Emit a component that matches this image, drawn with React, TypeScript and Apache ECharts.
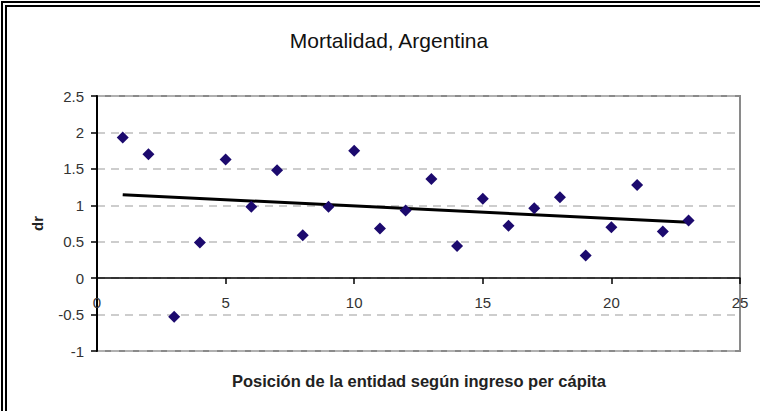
import React, { useEffect, useRef } from "react";
import * as echarts from "echarts";

const positions = [1, 2, 3, 4, 5, 6, 7, 8, 9, 10, 11, 12, 13, 14, 15, 16, 17, 18, 19, 20, 21, 22, 23];
const drValues = [1.93, 1.7, -0.53, 0.49, 1.63, 0.98, 1.48, 0.59, 0.98, 1.75, 0.68, 0.93, 1.36, 0.44, 1.09, 0.72, 0.96, 1.11, 0.31, 0.7, 1.28, 0.64, 0.79];
const titleText = "Mortalidad, Argentina";
const xAxisTitle = "Posición de la entidad según ingreso per cápita";
const yAxisTitle = "dr";

function linearFit(xs: number[], ys: number[]) {
  const n = xs.length;
  const mx = xs.reduce((a, b) => a + b, 0) / n;
  const my = ys.reduce((a, b) => a + b, 0) / n;
  let sxy = 0;
  let sxx = 0;
  for (let i = 0; i < n; i++) {
    sxy += (xs[i] - mx) * (ys[i] - my);
    sxx += (xs[i] - mx) * (xs[i] - mx);
  }
  const slope = sxy / sxx;
  const intercept = my - slope * mx;
  return { slope, intercept };
}

export default function App() {
  const ref = useRef<HTMLDivElement>(null);
  useEffect(() => {
    if (!ref.current) return;
    const chart = echarts.init(ref.current, undefined, { renderer: "svg" });
    const { slope, intercept } = linearFit(positions, drValues);
    const x0 = positions[0];
    const x1 = positions[positions.length - 1];
    const trend = [
      [x0, intercept + slope * x0],
      [x1, intercept + slope * x1],
    ];
    const font = "Liberation Sans, Arial, sans-serif";
    chart.setOption({
      animation: false,
      backgroundColor: "#ffffff",
      textStyle: { fontFamily: font },
      title: {
        text: titleText,
        left: 384,
        textAlign: "center",
        top: 25,
        textStyle: {
          fontFamily: font,
          fontSize: 21,
          fontWeight: "normal",
          color: "#111",
        },
      },
      grid: [
        {
          left: 97,
          top: 96,
          right: 20,
          bottom: 60,
          show: true,
          borderColor: "#8a8a8a",
          borderWidth: 2,
          backgroundColor: "#ffffff",
        },
        {
          left: 97,
          top: 96,
          right: 20,
          bottom: 133,
          show: false,
        },
      ],
      xAxis: [
        {
          type: "value",
          gridIndex: 0,
          min: 0,
          max: 25,
          interval: 5,
          axisLine: { show: false },
          axisTick: { show: false },
          axisLabel: { show: false },
          splitLine: { show: false },
        },
        {
          type: "value",
          gridIndex: 1,
          min: 0,
          max: 25,
          interval: 5,
          position: "bottom",
          axisLine: { show: true, onZero: false, lineStyle: { color: "#000", width: 1.5 } },
          axisTick: { show: true, inside: false, length: 6, lineStyle: { color: "#000", width: 1.5 } },
          axisLabel: { margin: 17, color: "#333", fontSize: 15, fontFamily: font },
          splitLine: { show: false },
          z: 5,
        },
      ],
      yAxis: [
        {
          type: "value",
          gridIndex: 0,
          min: -1,
          max: 2.5,
          interval: 0.5,
          name: yAxisTitle,
          nameLocation: "middle",
          nameGap: 52,
          nameRotate: 90,
          nameTextStyle: { fontWeight: "bold", fontSize: 15, color: "#222", fontFamily: font },
          axisLine: { show: true, lineStyle: { color: "#000", width: 2 } },
          axisTick: { show: true, inside: false, length: 6, lineStyle: { color: "#000", width: 1.5 } },
          axisLabel: { margin: 13, color: "#333", fontSize: 15, fontFamily: font },
          splitLine: { show: true, lineStyle: { color: "#bdbdbd", type: [8, 6], width: 1.5 } },
        },
        {
          type: "value",
          gridIndex: 1,
          min: 0,
          max: 1,
          show: false,
        },
      ],
      graphic: [
        { type: "line", shape: { x1: 2, y1: 1, x2: 2, y2: 411 }, style: { stroke: "#000", lineWidth: 2 } },
        { type: "line", shape: { x1: 1, y1: 2, x2: 760, y2: 2 }, style: { stroke: "#000", lineWidth: 2 } },
        { type: "line", shape: { x1: 6, y1: 5, x2: 6, y2: 411 }, style: { stroke: "#000", lineWidth: 2 } },
        { type: "line", shape: { x1: 5, y1: 6, x2: 760, y2: 6 }, style: { stroke: "#000", lineWidth: 2 } },
        {
          type: "text",
          x: 419,
          y: 381,
          style: {
            text: xAxisTitle,
            fontFamily: font,
            fontSize: 16.5,
            fontWeight: "bold",
            fill: "#222",
            textAlign: "center",
            textVerticalAlign: "middle",
          },
        },
      ],
      series: [
        {
          type: "line",
          xAxisIndex: 0,
          yAxisIndex: 0,
          data: trend,
          symbol: "none",
          lineStyle: { color: "#000", width: 3 },
          z: 3,
        },
        {
          type: "scatter",
          xAxisIndex: 0,
          yAxisIndex: 0,
          data: positions.map((p, i) => [p, drValues[i]]),
          symbol: "diamond",
          symbolSize: [12, 12],
          itemStyle: { color: "#1c0a6e", opacity: 1 },
          z: 4,
        },
      ],
    });
    return () => chart.dispose();
  }, []);
  return (
    <div
      ref={ref}
      style={{ position: "fixed", left: 0, top: 0, width: 760, height: 411 }}
    />
  );
}
